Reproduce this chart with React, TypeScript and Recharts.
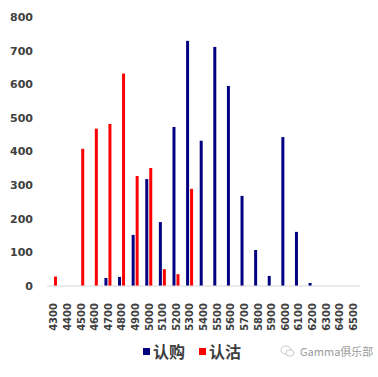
import React from 'react';
import { BarChart, Bar, XAxis, YAxis } from 'recharts';

const strikes = ['4300','4400','4500','4600','4700','4800','4900','5000','5100','5200','5300','5400','5500','5600','5700','5800','5900','6000','6100','6200','6300','6400','6500'];
const callValues = [0,0,0,0,24,27,152,318,190,473,729,432,711,595,268,107,30,443,161,9,0,0,0];
const putValues = [28,0,408,468,482,632,327,351,50,35,289,0,0,0,0,0,0,0,0,0,0,0,0];
const yTicks = [0,100,200,300,400,500,600,700,800];
const seriesNames = ['认购','认沽'];
const seriesColors = ['#000080','#ff0000'];

const data = strikes.map((s, i) => ({ strike: s, call: callValues[i], put: putValues[i] }));

const XTick = (props: any) => {
  const { x, y, payload } = props;
  return (
    <text
      x={x}
      y={y}
      transform={`rotate(-90 ${x} ${y})`}
      textAnchor="end"
      dy="0.36em"
      fontFamily="DejaVu Sans"
      fontWeight="bold"
      fontSize={10}
      fill="#404040"
    >
      {payload.value}
    </text>
  );
};

export default function App() {
  return (
    <div style={{ position: 'absolute', left: 0, top: 0, width: 378, height: 377, background: '#fff' }}>
      <BarChart
        width={378}
        height={377}
        data={data}
        margin={{ top: 17, right: 18, left: 0, bottom: 51 }}
        barSize={3}
        barGap={1}
      >
        <XAxis
          dataKey="strike"
          interval={0}
          height={40}
          tickLine={false}
          axisLine={{ stroke: '#d9d9d9' }}
          tickMargin={11}
          tick={<XTick />}
        />
        <YAxis
          width={47}
          domain={[0, 800]}
          ticks={yTicks}
          axisLine={false}
          tickLine={false}
          tickMargin={8}
          tick={{ fontFamily: 'DejaVu Sans', fontWeight: 'bold', fontSize: 11, fill: '#404040' }}
        />
        <Bar dataKey="call" name={seriesNames[0]} fill={seriesColors[0]} isAnimationActive={false} />
        <Bar dataKey="put" name={seriesNames[1]} fill={seriesColors[1]} isAnimationActive={false} />
      </BarChart>
      <div style={{ position: 'absolute', left: 143, top: 339, display: 'flex', alignItems: 'center', fontFamily: '"Noto Sans CJK SC"', fontSize: 16, fontWeight: 'bold', color: '#404040' }}>
        {seriesNames.map((n, i) => (
          <div key={n} style={{ display: 'flex', alignItems: 'center', marginRight: i === 0 ? 14 : 0 }}>
            <span style={{ width: 7, height: 7, background: seriesColors[i], marginRight: 3, display: 'inline-block' }} />
            <span>{n}</span>
          </div>
        ))}
      </div>
      <div style={{ position: 'absolute', left: 280, top: 343, display: 'flex', alignItems: 'center', fontFamily: '"Noto Sans CJK SC"', fontSize: 11, color: '#9a9a9a' }}>
        <svg width={16} height={12} style={{ marginRight: 4 }}>
          <ellipse cx={6} cy={5} rx={5} ry={4} fill="none" stroke="#bbb" strokeWidth={0.8} />
          <ellipse cx={10} cy={8} rx={4} ry={3.2} fill="#fff" stroke="#bbb" strokeWidth={0.8} />
        </svg>
        <span>Gamma俱乐部</span>
      </div>
    </div>
  );
}
